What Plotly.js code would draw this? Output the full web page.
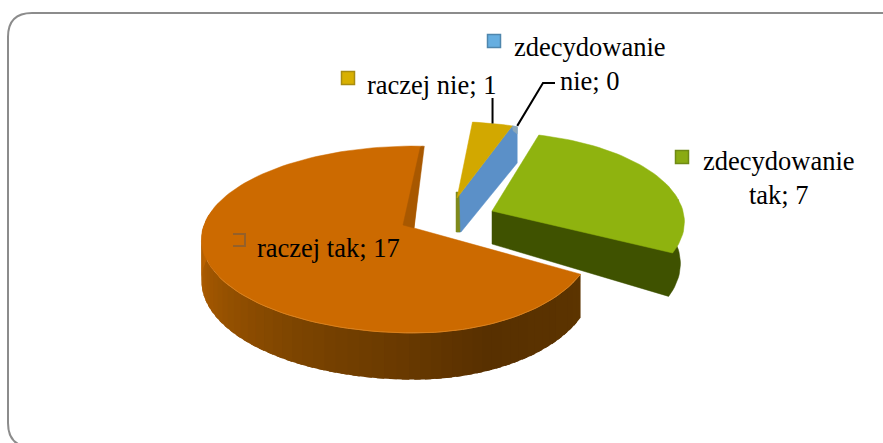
<!DOCTYPE html>
<html><head><meta charset="utf-8">
<script src="https://cdn.plot.ly/plotly-3.0.1.min.js"></script>
<style>html,body{margin:0;padding:0;background:#fff}#c{width:883px;height:443px}</style>
</head><body><div id="c"></div>
<script>
const categories = ["zdecydowanie tak", "zdecydowanie nie", "raczej nie", "raczej tak"];
const values = [7, 0, 1, 17];
const topColors = ["#8fb30f", "#5b90c8", "#d2a800", "#cc6a00"];
const wallColors = ["#3f5200", "#5b90c8", "#7f8a1c", "#7a4300"];

// projection of the tilted disc
const START = 3, P = 0.123, RT = 92, DEPTH = 41;
const total = values.reduce((a, b) => a + b, 0);
const order = [2, 1, 0, 3];
const angles = {};
let a = START;
order.forEach(i => { angles[i] = [a, a + values[i] / total * 360]; a = angles[i][1]; });
const rad = d => d * Math.PI / 180;
function pt(c, th, rl, rr) {
  const t = th + (c.rot || 0), X = Math.sin(rad(t)), Y = Math.cos(rad(t)), s = 1 / (1 + P * Y);
  const R = X < 0 ? rl : rr;
  return { x: c.x + R * X * s, y: c.y - RT * (c.ky || 1) * Y * s, s };
}
function arc(c, t0, t1, rl, rr, drop) {
  const out = [], n = Math.max(2, Math.ceil(Math.abs(t1 - t0) / 2));
  for (let k = 0; k <= n; k++) {
    const p = pt(c, t0 + (t1 - t0) * k / n, rl, rr);
    out.push({ x: p.x, y: p.y + (drop ? DEPTH * p.s : 0) });
  }
  return out;
}
const traces = [];
function poly(ps, color, w) {
  traces.push({ type: "scatter", mode: "lines", x: ps.map(p => p.x).concat(ps[0].x), y: ps.map(p => p.y).concat(ps[0].y),
    fill: "toself", fillcolor: color, line: { color, width: w === undefined ? 0.5 : w }, hoverinfo: "skip", showlegend: false });
}
function path(ps, color, w) {
  traces.push({ type: "scatter", mode: "lines", x: ps.map(p => p.x), y: ps.map(p => p.y),
    line: { color, width: w }, hoverinfo: "skip", showlegend: false });
}
function mix(stops, t) {
  for (let i = 1; i < stops.length; i++) if (t <= stops[i][0]) {
    const [a0, c0] = stops[i - 1], [a1, c1] = stops[i], f = (t - a0) / (a1 - a0);
    return "rgb(" + c0.map((v, j) => Math.round(v + (c1[j] - v) * f)).join(",") + ")";
  }
  return "rgb(" + stops[stops.length - 1][1].join(",") + ")";
}
const shift = (p, dx, dy) => ({ x: p.x + dx, y: p.y + dy });

// raczej tak (orange)
const cO = { x: 414, y: 228 }, oA = angles[3];
const oStops = [[0, [92, 52, 0]], [0.25, [88, 48, 0]], [0.55, [122, 67, 0]], [0.8, [160, 86, 0]], [1, [192, 102, 0]]];
const N = 54, wallEnd = 280;
for (let k = 0; k < N; k++) {
  const t0 = oA[0] + (wallEnd - oA[0]) * k / N, t1 = oA[0] + (wallEnd - oA[0]) * (k + 1.6) / N;
  const up = arc(cO, t0, t1, 211, 178, false), dn = arc(cO, t0, t1, 211, 178, true).reverse();
  poly(up.concat(dn), mix(oStops, k / (N - 1)), 0);
}
poly([cO].concat(arc(cO, oA[0], oA[1], 211, 178, false)), topColors[3], 0.5);
const oEnd = pt(cO, oA[1], 211, 178);
poly([shift(oEnd, -2, 1), oEnd, shift(oEnd, 2, 0), cO, shift(cO, -11, -3)], "#a85800", 0.5);
path(arc(cO, oA[0], 240, 211, 178, false), "#d9801c", 1);

// zdecydowanie tak (green)
const cG = { x: 492, y: 211, rot: -1.5, ky: 0.96 }, gA = angles[0];
const gTop = pt(cG, 84, 191, 191);
poly([cG, gTop].concat(arc(cG, 84, gA[1], 191, 191, true).map(p => shift(p, -4, 0)), [shift(cG, 0, 33)]), wallColors[0]);
poly([cG].concat(arc(cG, gA[0], gA[1], 191, 191, false)), topColors[0], 0.5);

// raczej nie (yellow) with its walls, and the empty blue slice along its edge
const cY = { x: 457, y: 198, rot: 2.5, ky: 0.93 }, yA = angles[2];
const yEnd = pt(cY, yA[1], 190, 181);
poly([cY, yEnd, shift(yEnd, 5, 1), shift(yEnd, 5, 37), shift(cY, 4, 34), shift(cY, 0, 34)], wallColors[1]);
poly([yEnd, shift(yEnd, 5, 1), shift(yEnd, 5, 8), shift(yEnd, 1, 5)], "#8aa6b8");
poly([shift(cY, -1, -6), shift(cY, 2, -6), shift(cY, 3, 34), shift(cY, -1, 34)], wallColors[2]);
poly([cY].concat(arc(cY, yA[0], yA[1], 190, 181, false)), topColors[2], 0.5);

// leader lines
const yRim = pt(cY, (yA[0] + yA[1]) / 2, 190, 181);
path([yRim, { x: yRim.x, y: 98 }], "#000", 2);
const bRim = shift(yEnd, 5, 0);
path([bRim, { x: 543, y: 83 }, { x: 555, y: 83 }], "#000", 2);

// legend keys
const keys = [[682, 157, "#8aab12", "#6f8a14"], [494, 41, "#66aee0", "#4f86ad"], [348, 78, "#d8b000", "#a88c10"]];
keys.forEach(k => traces.push({ type: "scatter", mode: "markers", x: [k[0]], y: [k[1]], hoverinfo: "skip", showlegend: false,
  marker: { symbol: "square", size: 13, color: k[2], line: { color: k[3], width: 1.5 } } }));
const oK = { x: 239, y: 240 };
path([shift(oK, -6, -6), shift(oK, 6, -6), shift(oK, 6, 6), shift(oK, -6, 6)], "#94602a", 2);

const FONT = { family: "Liberation Serif, Times New Roman, serif", size: 26.5, color: "#000" };
const label = (x, y, text, align) => ({ x, y, text, xref: "x", yref: "y", showarrow: false, font: FONT, align: align || "left", xanchor: "center", yanchor: "middle" });
const layout = {
  width: 883, height: 443, margin: { l: 0, r: 0, t: 0, b: 0 }, paper_bgcolor: "#fff", plot_bgcolor: "#fff", showlegend: false,
  xaxis: { range: [0, 883], visible: false, fixedrange: true },
  yaxis: { range: [443, 0], visible: false, fixedrange: true },
  shapes: [{ type: "path", xref: "x", yref: "y", layer: "below",
    path: "M 900 447 L 32 447 Q 8 447 8 423 L 8 37 Q 8 13 32 13 L 900 13 Z", fillcolor: "#fff", line: { color: "#8c8c8c", width: 2 } }],
  annotations: [
    label(328, 248, "raczej tak; 17"),
    label(431, 85, "raczej nie; 1"),
    label(590, 64, "zdecydowanie<br>nie; 0", "center"),
    label(779, 178, "zdecydowanie<br>tak; 7", "center")
  ]
};
Plotly.newPlot("c", traces, layout, { staticPlot: true, displayModeBar: false });
</script></body></html>
